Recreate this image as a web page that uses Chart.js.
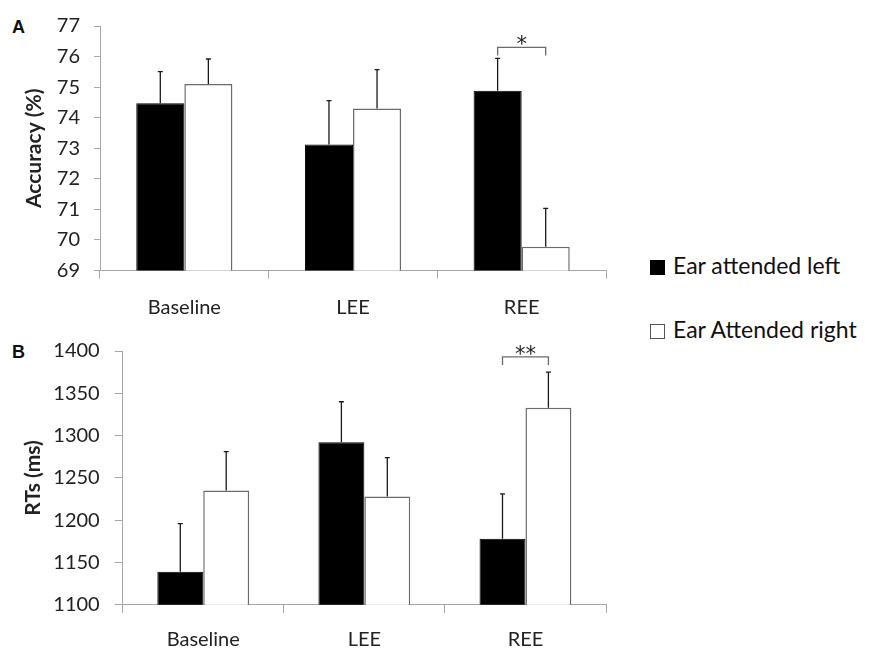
<!DOCTYPE html>
<html>
<head>
<meta charset="utf-8">
<script src="https://cdn.jsdelivr.net/npm/chart.js@4.4.1/dist/chart.umd.min.js"></script>
<style>
  body { margin: 0; background: #fff; width: 873px; height: 649px; overflow: hidden; position: relative; font-family: Lato, sans-serif; }
  .panel { position: absolute; left: 0; width: 640px; }
  #panelA { top: 0; height: 320px; }
  #panelB { top: 320px; height: 329px; }
  .tag { position: absolute; font: bold 18px/18px "Liberation Sans", Arial, sans-serif; color: #111; }
  .legSwatch { position: absolute; left: 650px; width: 15px; height: 15px; box-sizing: border-box; }
  .legText { position: absolute; left: 673px; font: 23px/23px Lato, sans-serif; color: #111; white-space: nowrap; }
</style>
</head>
<body>
<div class="tag" style="left:12px; top:18px;">A</div>
<div class="tag" style="left:12px; top:343px;">B</div>
<div class="panel" id="panelA"><canvas id="chartAcc"></canvas></div>
<div class="panel" id="panelB"><canvas id="chartRT"></canvas></div>
<div id="legend"></div>

<script>
// Dados
const categories = ['Baseline', 'LEE', 'REE'];
const seriesNames = ['Ear attended left', 'Ear Attended right'];

// A - Accuracy (%)
const accLeft = [74.47, 73.12, 74.88];
const accLeftErr = [1.04, 1.44, 1.06];
const accRight = [75.10, 74.30, 69.78];
const accRightErr = [0.82, 1.27, 1.25];
const accTicks = [69, 77, 1];          // min, max, step
const accSigIndex = 2, accSigText = '*', accSigLevel = 76.3;

// B - RTs (ms)
const rtLeft = [1139, 1292, 1178];
const rtLeftErr = [57, 48, 53];
const rtRight = [1235, 1228, 1333];
const rtRightErr = [46, 46, 42];
const rtTicks = [1100, 1400, 50];
const rtSigIndex = 2, rtSigText = '**', rtSigLevel = 1393;

Chart.defaults.font.family = 'Lato, sans-serif';
Chart.defaults.color = '#222';

const AXIS = '#a6a6a6';

// barras de erro + colchete de significância
function extrasPlugin(errs, sig) {
    return {
        id: 'extras',
        afterDatasetsDraw(chart) {
            const ctx = chart.ctx;
            const y = chart.scales.y;
            ctx.save();
            ctx.strokeStyle = '#1a1a1a';
            ctx.lineWidth = 1.3;
            chart.data.datasets.forEach((ds, di) => {
                chart.getDatasetMeta(di).data.forEach((bar, i) => {
                    const top = y.getPixelForValue(ds.data[i] + errs[di][i]);
                    ctx.beginPath();
                    ctx.moveTo(bar.x, bar.y);
                    ctx.lineTo(bar.x, top);
                    ctx.moveTo(bar.x - 2.5, top);
                    ctx.lineTo(bar.x + 2.5, top);
                    ctx.stroke();
                });
            });

            const x0 = chart.getDatasetMeta(0).data[sig.index].x;
            const x1 = chart.getDatasetMeta(1).data[sig.index].x;
            const yb = y.getPixelForValue(sig.level);
            ctx.strokeStyle = '#6b6b6b';
            ctx.beginPath();
            ctx.moveTo(x0, yb + 8);
            ctx.lineTo(x0, yb);
            ctx.lineTo(x1, yb);
            ctx.lineTo(x1, yb + 8);
            ctx.stroke();

            ctx.fillStyle = '#222';
            ctx.font = '21px "DejaVu Sans", sans-serif';
            ctx.textAlign = 'center';
            ctx.textBaseline = 'alphabetic';
            ctx.fillText(sig.text, (x0 + x1) / 2, yb + 4);
            ctx.restore();
        }
    };
}

function makeChart(canvasId, left, right, errs, ticks, yTitle, box, sig) {
    const ctx = document.getElementById(canvasId).getContext('2d');
    return new Chart(ctx, {
        type: 'bar',
        data: {
            labels: categories,
            datasets: [
                { label: seriesNames[0], data: left, backgroundColor: '#000', borderColor: '#000', borderWidth: 1, categoryPercentage: 0.57, barPercentage: 1.0 },
                { label: seriesNames[1], data: right, backgroundColor: '#fff', borderColor: '#6b6b6b', borderWidth: 1.5, categoryPercentage: 0.57, barPercentage: 1.0 }
            ]
        },
        options: {
            responsive: true,
            maintainAspectRatio: false,
            animation: false,
            layout: { padding: { left: 0, right: 34, top: box.top, bottom: 0 } },
            plugins: { legend: { display: false }, tooltip: { enabled: false } },
            scales: {
                x: {
                    grid: { drawOnChartArea: false, offset: true, tickLength: 8, color: AXIS },
                    border: { color: AXIS },
                    ticks: { padding: box.xPad, color: '#222', font: { size: 20 } },
                    afterFit: s => { s.height = box.xHeight; }
                },
                y: {
                    min: ticks[0],
                    max: ticks[1],
                    ticks: { stepSize: ticks[2], padding: box.yPad, color: '#222', font: { size: 20 }, callback: v => String(v) },
                    grid: { drawOnChartArea: false, tickLength: box.tick, color: AXIS },
                    border: { color: AXIS },
                    title: { display: true, text: yTitle, color: '#222', font: { size: 21, weight: 'bold' }, padding: { top: box.titlePad, bottom: 0 } },
                    afterFit: s => { s.width = box.yWidth; }
                }
            }
        },
        plugins: [extrasPlugin(errs, sig)]
    });
}

makeChart('chartAcc', accLeft, accRight, [accLeftErr, accRightErr], accTicks, 'Accuracy (%)',
    { top: 19.3, yWidth: 100, xHeight: 49.5, xPad: 17, yPad: 14, tick: 6, titlePad: 22 },
    { index: accSigIndex, text: accSigText, level: accSigLevel });

makeChart('chartRT', rtLeft, rtRight, [rtLeftErr, rtRightErr], rtTicks, 'RTs (ms)',
    { top: 31, yWidth: 122.7, xHeight: 44.2, xPad: 15, yPad: 15, tick: 8, titlePad: 21 },
    { index: rtSigIndex, text: rtSigText, level: rtSigLevel });

// Legenda
const legendTops = [260, 324];
const legendFills = [['#000', 'none'], ['#fff', '1px solid #555']];
document.getElementById('legend').innerHTML = seriesNames.map((name, i) => `
    <div class="legSwatch" style="top:${legendTops[i]}px; background:${legendFills[i][0]}; border:${legendFills[i][1]};"></div>
    <div class="legText" style="top:${legendTops[i] - 5.6}px;">${name}</div>
`).join('');
</script>
</body>
</html>
